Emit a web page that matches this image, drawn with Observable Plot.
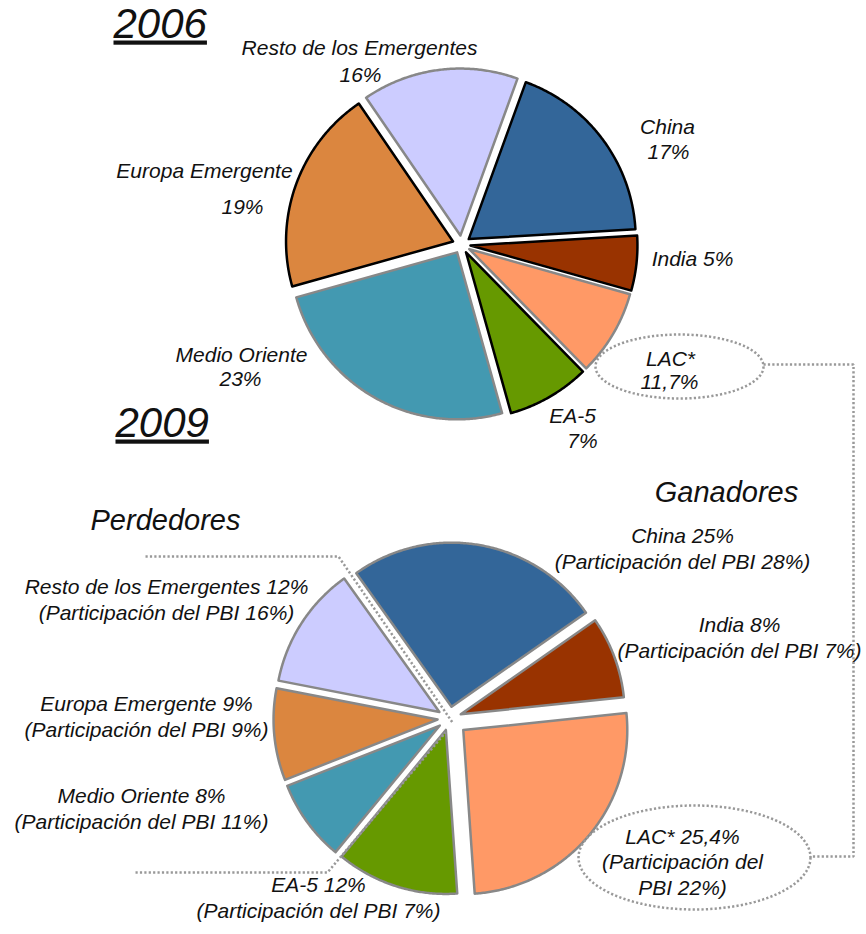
<!DOCTYPE html>
<html>
<head>
<meta charset="utf-8">
<script src="https://cdn.jsdelivr.net/npm/d3@7"></script>
<script src="https://cdn.jsdelivr.net/npm/@observablehq/plot@0.6"></script>
<style>
  html, body { margin: 0; padding: 0; background: #fff; }
  svg { display: block; }
</style>
</head>
<body>
<div id="chart"></div>
<script>
// ---------------- DATA ----------------
const categories = ["China", "India", "LAC*", "EA-5", "Medio Oriente", "Europa Emergente", "Resto de los Emergentes"];
const colors = ["#336699", "#993300", "#FF9966", "#669900", "#4399B1", "#DB863F", "#CCCCFF"];

// 2006: shares as drawn in the pie, and label texts
const slice2006 = [18.5, 5.3, 8.3, 8.0, 25.0, 19.8, 15.1];
const pct2006 = ["17%", "5%", "11,7%", "7%", "23%", "19%", "16%"];
const outline2006 = ["#000", "#000", "#888", "#000", "#888", "#000", "#888"];

// 2009: shares and GDP participation
const share2009 = [25, 8, 25.4, 12, 8, 9, 12];
const pct2009 = ["25%", "8%", "25,4%", "12%", "8%", "9%", "12%"];
const pbi2009 = ["28%", "7%", "22%", "7%", "11%", "9%", "16%"];

const titles = ["2006", "2009"];
const groupTitles = ["Ganadores", "Perdedores"];

// ---------------- LAYOUT ----------------
const W = 866, H = 934;
const pie2006 = {cx: 461, cy: 244, r: 167, start: 20, explode: [9, 9, 9, 9, 9, 9, 9]};
const pie2009 = {cx: 449, cy: 718, r: 164, start: -35.5, explode: [12, 12, 18, 12, 12, 12, 12]};

// label positions 2006 : [name line] and [pct line] (x center, baseline y)
const lab2006Name = [[667, 133], null, [670, 365], [572, 422], [241, 361], [204, 177], [359, 54]];
const lab2006Pct  = [[668, 158], [692, 265], [669, 388], [582, 447], [240, 385], [242, 213], [360, 81]];
// label positions 2009 (x center, baseline of last line)
const lab2009 = [[682, 568], [739, 657], [682, 894], [318, 917], [141, 828], [146, 736], [166, 619]];

const titlePos = [[113, 37], [115, 436]];
const groupPos = [[726, 501], [165, 529]];

const ellipses = [
  {cx: 679, cy: 366, rx: 84, ry: 32},
  {cx: 694, cy: 857, rx: 116, ry: 52}
];
const connectors = [
  [[763, 364], [853, 364], [853, 856], [810, 856]],
  [[145, 556], [338, 556], [452, 722]],
  [[135, 872], [327, 872], [445, 732]]
];

// ---------------- GEOMETRY ----------------
function slicePoints(values, pie, fills, strokes, tag) {
  const total = d3.sum(values);
  let a = pie.start;
  const pts = [];
  values.forEach((v, i) => {
    const a0 = a, a1 = a + v / total * 360; a = a1;
    const mid = (a0 + a1) / 2 * Math.PI / 180;
    const ox = pie.cx + pie.explode[i] * Math.sin(mid);
    const oy = pie.cy - pie.explode[i] * Math.cos(mid);
    const key = tag + "-" + i;
    pts.push({key, x: ox, y: oy, fill: fills[i], stroke: strokes[i]});
    const steps = Math.max(4, Math.ceil((a1 - a0) * 2));
    for (let k = 0; k <= steps; k++) {
      const t = (a0 + (a1 - a0) * k / steps) * Math.PI / 180;
      pts.push({key, x: ox + pie.r * Math.sin(t), y: oy - pie.r * Math.cos(t), fill: fills[i], stroke: strokes[i]});
    }
  });
  return pts;
}

const pts2006 = slicePoints(slice2006, pie2006, colors, outline2006, "a");
const pts2009 = slicePoints(share2009, pie2009, colors, categories.map(() => "#888"), "b");

const ellipsePts = [];
ellipses.forEach((e, j) => {
  for (let k = 0; k < 160; k++) {
    const t = k / 160 * 2 * Math.PI;
    ellipsePts.push({key: "e" + j, x: e.cx + e.rx * Math.cos(t), y: e.cy + e.ry * Math.sin(t)});
  }
});
const connectorPts = connectors.flatMap((c, j) => c.map(([x, y]) => ({key: "c" + j, x, y})));

// ---------------- LABELS ----------------
const labels = [];
categories.forEach((c, i) => {
  if (lab2006Name[i]) {
    labels.push({text: c, x: lab2006Name[i][0], y: lab2006Name[i][1]});
    labels.push({text: pct2006[i], x: lab2006Pct[i][0], y: lab2006Pct[i][1]});
  } else {
    labels.push({text: c + " " + pct2006[i], x: lab2006Pct[i][0], y: lab2006Pct[i][1]});
  }
});
const labels2009 = categories.map((c, i) => {
  const text = c === "LAC*"
    ? `${c} ${pct2009[i]}\n(Participación del\nPBI ${pbi2009[i]})`
    : `${c} ${pct2009[i]}\n(Participación del PBI ${pbi2009[i]})`;
  return {text, x: lab2009[i][0], y: lab2009[i][1]};
});
const titleData = titles.map((t, i) => ({text: t, x: titlePos[i][0], y: titlePos[i][1]}));
const groupData = groupTitles.map((t, i) => ({text: t, x: groupPos[i][0], y: groupPos[i][1]}));

const FONT = "'Liberation Sans', Arial, Helvetica, sans-serif";
const dotted = {stroke: "#999", strokeWidth: 2.5, strokeDasharray: "2.2,2.2", strokeLinecap: "butt", strokeLinejoin: "miter", fill: "none"};

const chart = Plot.plot({
  width: W, height: H, margin: 0,
  style: {background: "#fff", fontFamily: FONT},
  x: {domain: [0, W], range: [0, W], axis: null},
  y: {domain: [0, H], range: [0, H], axis: null},
  marks: [
    Plot.line(pts2006, {x: "x", y: "y", z: "key", fill: "fill", stroke: "stroke", strokeWidth: 2.5, curve: "linear-closed", strokeLinejoin: "round"}),
    Plot.line(pts2009, {x: "x", y: "y", z: "key", fill: "fill", stroke: "stroke", strokeWidth: 2.5, curve: "linear-closed", strokeLinejoin: "round"}),
    Plot.line(ellipsePts, {x: "x", y: "y", z: "key", curve: "linear-closed", ...dotted}),
    Plot.line(connectorPts, {x: "x", y: "y", z: "key", ...dotted}),
    Plot.text(labels, {x: "x", y: "y", text: "text", fontSize: 21, fontStyle: "italic", fill: "#111", textAnchor: "middle", lineAnchor: "bottom"}),
    Plot.text(labels2009, {x: "x", y: "y", text: "text", fontSize: 21, fontStyle: "italic", fill: "#111", textAnchor: "middle", lineAnchor: "bottom", lineHeight: 1.2}),
    Plot.text(groupData, {x: "x", y: "y", text: "text", fontSize: 29, fontStyle: "italic", fill: "#111", textAnchor: "middle", lineAnchor: "bottom"}),
    Plot.text(titleData, {x: "x", y: "y", text: "text", fontSize: 42, fontStyle: "italic", fill: "#111", textAnchor: "start", lineAnchor: "bottom"})
  ]
});

d3.select(chart).selectAll("text")
  .filter(function() { return titles.includes(this.textContent); })
  .style("text-decoration", "underline");

document.getElementById("chart").appendChild(chart);
</script>
</body>
</html>
